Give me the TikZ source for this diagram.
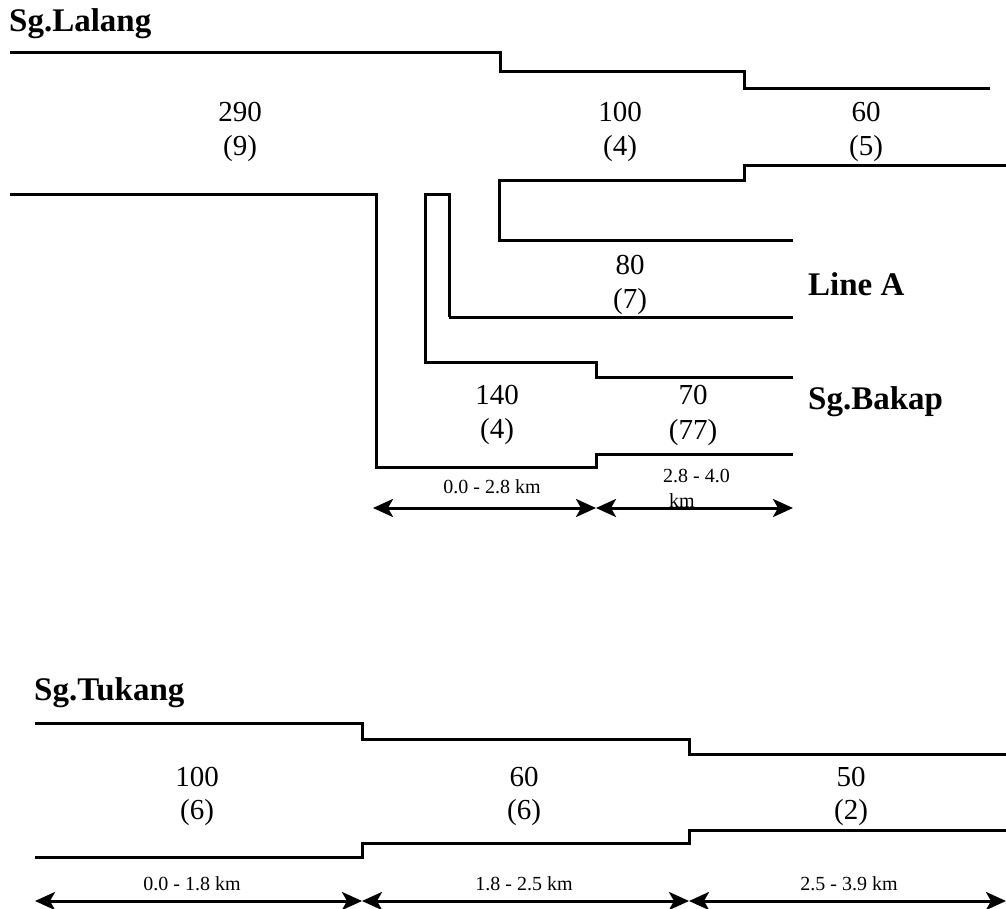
\documentclass[tikz,border=0pt]{standalone}
\usepackage{fontspec}
\setmainfont{Liberation Serif}
\usetikzlibrary{arrows.meta}
\begin{document}
\begin{tikzpicture}[x=1pt,y=-1pt,
  river/.style={line width=3pt,line join=miter},
  dim/.style={line width=3pt,{Stealth[length=20pt,width=18pt,inset=5pt]}-{Stealth[length=20pt,width=18pt,inset=5pt]}},
  title/.style={font=\fontsize{33}{35}\selectfont\bfseries,inner sep=0pt,anchor=west},
  num/.style={font=\fontsize{29}{31}\selectfont,inner sep=0pt},
  rng/.style={font=\fontsize{20}{22}\selectfont,inner sep=0pt}]
\useasboundingbox (0,0) rectangle (1006,909);
% ---------- Sg. Lalang ----------
\node[title] (tl) at (9,24) {Sg.Lalang};
\draw[river] (10,53) -- (500,53) -- (500,72) -- (744,72) -- (744,89) -- (990,89);
\draw[river] (10,195) -- (376,195) -- (376,467) -- (596,467) -- (596,454) -- (793,454);
\draw[river] (1006,166) -- (744,166) -- (744,181) -- (499,181) -- (499,241) -- (793,241);
\draw[river] (449,317) -- (449,195) -- (425,195) -- (425,362) -- (596,362) -- (596,377) -- (793,377);
\draw[river] (449,317) -- (793,317);
\node[num] (a1) at (240,112) {290};
\node[num] (a2) at (240,149) {(9)};
\node[num] (b1) at (620,112) {100};
\node[num] (b2) at (620,149) {(4)};
\node[num] (c1) at (866,112) {60};
\node[num] (c2) at (866,149) {(5)};
\node[num] (d1) at (630,265) {80};
\node[num] (d2) at (630,302) {(7)};
\node[num] (e1) at (497,395) {140};
\node[num] (e2) at (497,432) {(4)};
\node[num] (f1) at (693,395) {70};
\node[num] (f2) at (693,433) {(77)};
\node[title] (la) at (808,284) {Line A};
\node[title] (sb) at (808,402) {Sg.Bakap};
\node[rng] (r1) at (492,487) {0.0 - 2.8 km};
\node[rng,anchor=west] (r2) at (663,476) {2.8 - 4.0};
\node[rng,anchor=west] (r3) at (669,501) {km};
\coordinate (p1) at (373,508);
\coordinate (p2) at (596,508);
\coordinate (p3) at (793,508);
\draw[dim] (p1) -- (p2);
\draw[dim] (p2) -- (p3);
% ---------- Sg. Tukang ----------
\node[title] (tt) at (34,693) {Sg.Tukang};
\draw[river] (35,723) -- (362,723) -- (362,739) -- (689,739) -- (689,754) -- (1006,754);
\draw[river] (35,857) -- (362,857) -- (362,843) -- (689,843) -- (689,830) -- (1006,830);
\node[num] (g1) at (197,777) {100};
\node[num] (g2) at (197,813) {(6)};
\node[num] (h1) at (524,777) {60};
\node[num] (h2) at (524,813) {(6)};
\node[num] (i1) at (851,777) {50};
\node[num] (i2) at (851,813) {(2)};
\node[rng] (s1) at (192,884) {0.0 - 1.8 km};
\node[rng] (s2) at (524,884) {1.8 - 2.5 km};
\node[rng] (s3) at (849,884) {2.5 - 3.9 km};
\coordinate (q1) at (35,901);
\coordinate (q2) at (362,901);
\coordinate (q3) at (689,901);
\coordinate (q4) at (1006,901);
\draw[dim] (q1) -- (q2);
\draw[dim] (q2) -- (q3);
\draw[dim] (q3) -- (q4);
\end{tikzpicture}
\end{document}
